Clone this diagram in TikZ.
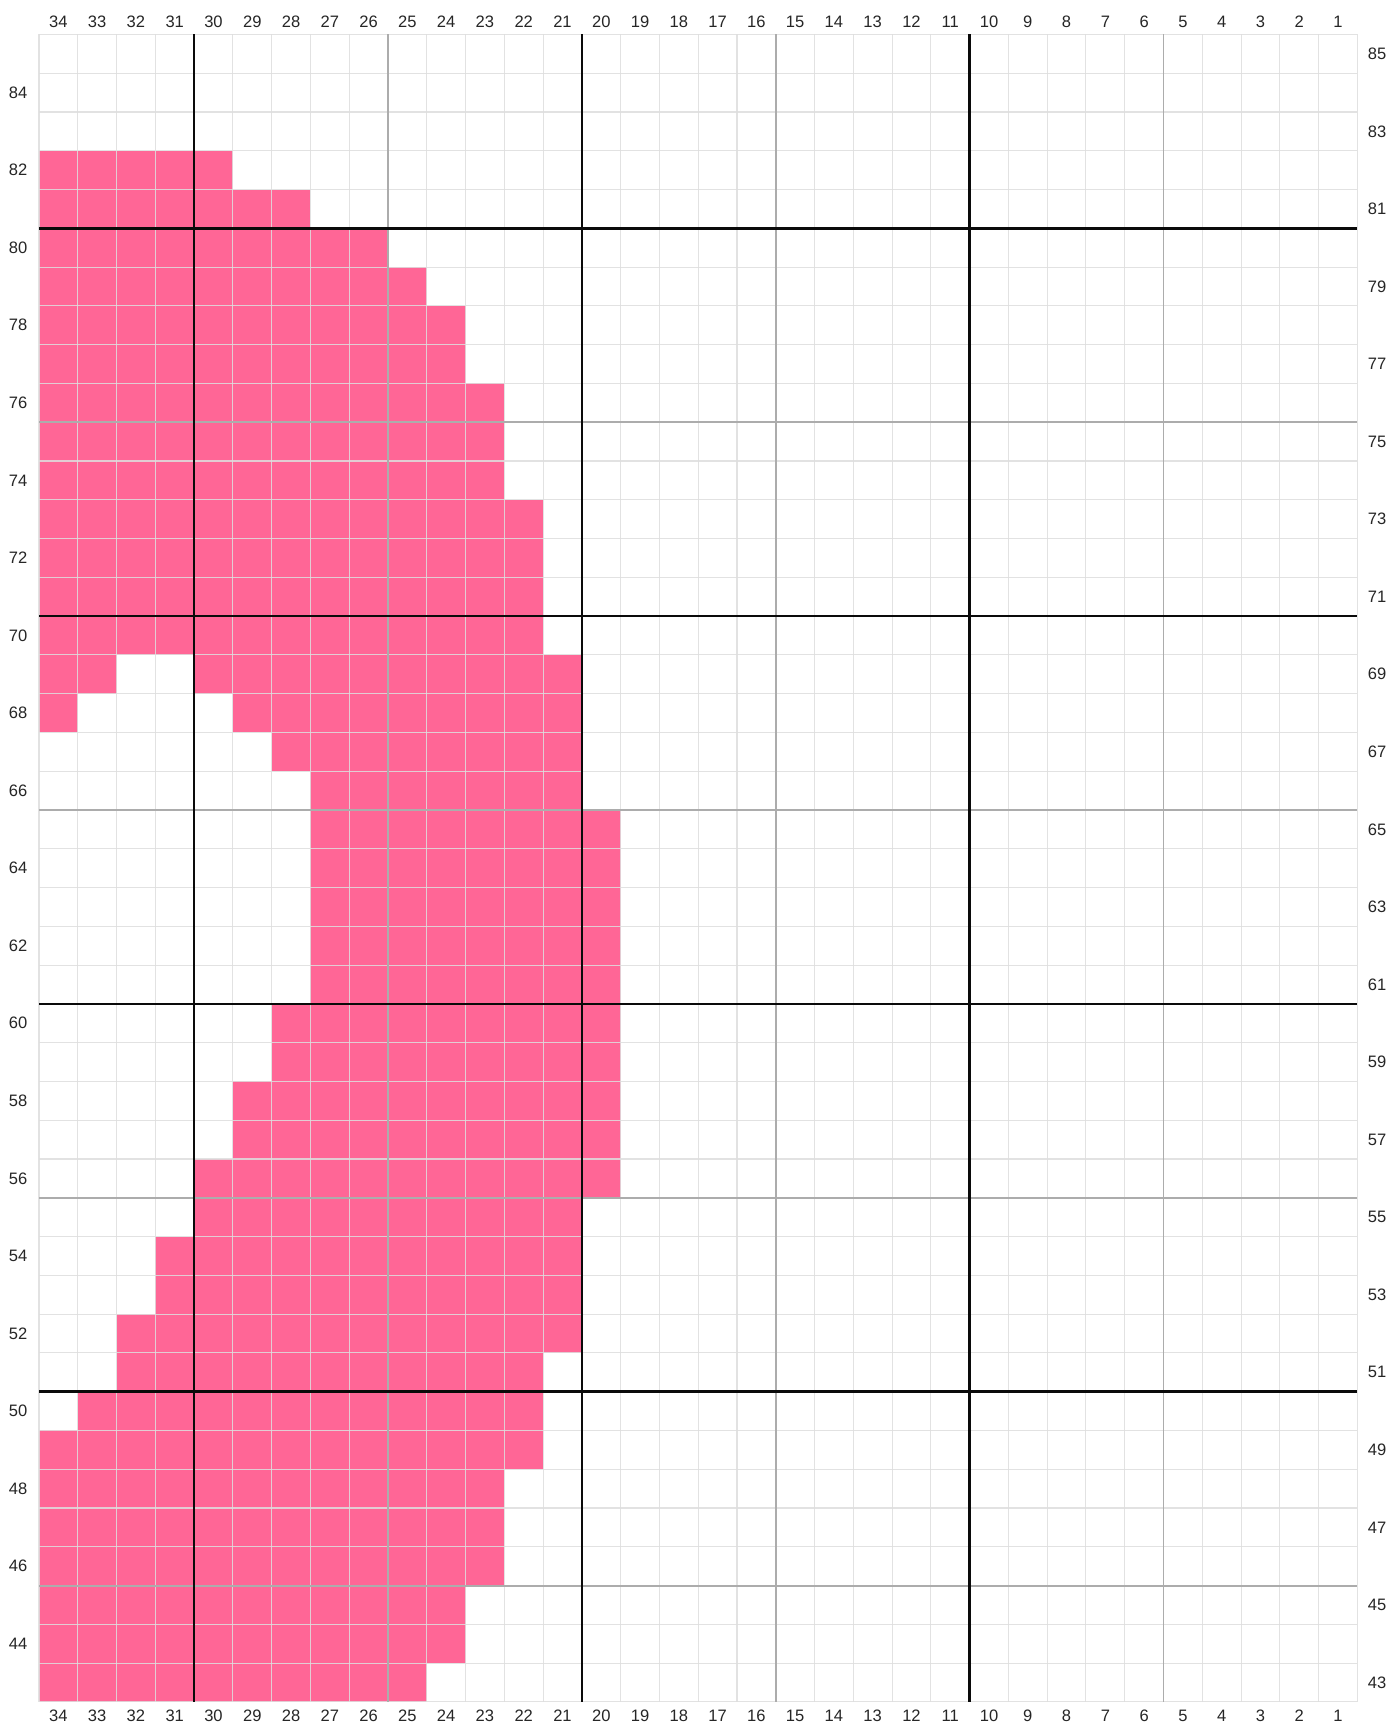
\documentclass[tikz,border=0pt]{standalone}
\usepackage{fontspec}
\setmainfont{Liberation Sans}
\definecolor{knitpink}{RGB}{255,102,150}
\definecolor{gridlt}{RGB}{222,222,222}
\definecolor{gridmid}{RGB}{172,172,172}
\definecolor{gridbold}{RGB}{10,10,10}

\begin{document}
\begin{tikzpicture}[x=0.7cm,y=0.7cm,
    numlbl/.style={font=\fontsize{8.5}{10}\selectfont,text=black!85,inner sep=0pt}]

    \useasboundingbox (-1.006,-0.70) rectangle (34.954,43.89);

    % 白底

    \fill[white] (-1.006,-0.70) rectangle (34.954,43.89);

    % 粉色图案 (行/起始列/结束列)

    \foreach \r/\a/\b in {82/34/30,81/34/28,80/34/26,79/34/25,78/34/24,77/34/24,
        76/34/23,75/34/23,74/34/23,73/34/22,72/34/22,71/34/22,70/34/22,
        69/34/33,69/30/21,68/34/34,68/29/21,67/28/21,66/27/21,
        65/27/20,64/27/20,63/27/20,62/27/20,61/27/20,60/28/20,59/28/20,
        58/29/20,57/29/20,56/30/20,55/30/21,54/31/21,53/31/21,52/32/21,
        51/32/22,50/33/22,49/34/22,48/34/23,47/34/23,46/34/23,
        45/34/24,44/34/24,43/34/25}{

      \fill[knitpink] ({34-\a},{\r-43}) rectangle ({35-\b},{\r-42});

    }

    % 细网格

    \foreach \x in {0,...,34}{

      \draw[gridlt,line width=0.55pt,opacity=0.85] (\x,0) -- (\x,43);

    }

    \foreach \y in {0,...,43}{

      \draw[gridlt,line width=0.55pt,opacity=0.85] (0,\y) -- (34,\y);

    }

    % 每五格灰线

    \foreach \n in {5,15,25}{

      \draw[gridmid,line width=1pt] ({34-\n},0) -- ({34-\n},43);

    }

    \foreach \n in {45,55,65,75}{

      \draw[gridmid,line width=1pt] (0,{\n-42}) -- (34,{\n-42});

    }

    % 每十格黑线

    \foreach \n in {10,20,30}{

      \draw[gridbold,line width=1.3pt] ({34-\n},0) -- ({34-\n},43);

    }

    \foreach \n in {50,60,70,80}{

      \draw[gridbold,line width=1.3pt] (0,{\n-42}) -- (34,{\n-42});

    }

    % 列号

    \foreach \c in {1,...,34}{

      \node[numlbl] (top\c) at ({34.5-\c},43.33) {\c};

      \node[numlbl] (bot\c) at ({34.5-\c},-0.37) {\c};

    }

    % 行号

    \foreach \r in {44,46,...,84}{

      \node[numlbl] (left\r) at (-0.54,{\r-42.5}) {\r};

    }

    \foreach \r in {43,45,...,85}{

      \node[numlbl] (right\r) at (34.51,{\r-42.5}) {\r};

    }

  \end{tikzpicture}
\end{document}
